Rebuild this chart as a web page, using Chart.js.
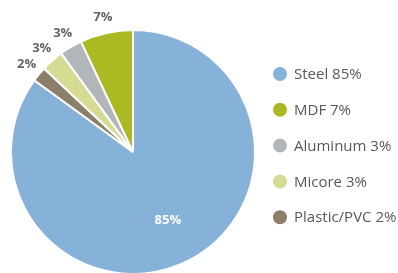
<!DOCTYPE html>
<html>
<head>
<meta charset="utf-8">
<script src="https://cdn.jsdelivr.net/npm/chart.js@4.4.0/dist/chart.umd.min.js"></script>
<style>
  html, body { margin: 0; padding: 0; background: #fff; }
  #wrap { width: 398px; height: 273px; position: relative; }
</style>
</head>
<body>
<div id="wrap"><canvas id="pie"></canvas></div>
<script>
// slices, clockwise from 12 o'clock
const materials = ['Steel', 'Plastic/PVC', 'Micore', 'Aluminum', 'MDF'];
const shares = [85, 2, 3, 3, 7];
const colors = ['#86b1d9', '#8c7f6a', '#d5db93', '#b1b6ba', '#abba22'];
// legend order as in the picture
const legendOrder = ['Steel', 'MDF', 'Aluminum', 'Micore', 'Plastic/PVC'];

const sliceLabels = {
  id: 'sliceLabels',
  afterDatasetsDraw(chart) {
    const ctx = chart.ctx;
    const arcs = chart.getDatasetMeta(0).data;
    ctx.save();
    ctx.textAlign = 'center';
    ctx.textBaseline = 'middle';
    arcs.forEach((arc, i) => {
      const mid = (arc.startAngle + arc.endAngle) / 2;
      const big = shares[i] > 50;
      const r = big ? arc.outerRadius * 0.63 : arc.outerRadius + 16;
      ctx.font = 'bold 13px "Open Sans", sans-serif';
      ctx.fillStyle = big ? '#ffffff' : '#636466';
      ctx.fillText(shares[i] + '%', arc.x + Math.cos(mid) * r, arc.y + Math.sin(mid) * r);
    });
    ctx.restore();
  }
};

const sideLegend = {
  id: 'sideLegend',
  afterDraw(chart) {
    const ctx = chart.ctx;
    ctx.save();
    ctx.textAlign = 'left';
    ctx.textBaseline = 'middle';
    ctx.font = '15px "Open Sans", sans-serif';
    legendOrder.forEach((name, k) => {
      const i = materials.indexOf(name);
      const y = 74 + k * 35.8;
      ctx.fillStyle = colors[i];
      ctx.beginPath();
      ctx.arc(280, y, 7, 0, Math.PI * 2);
      ctx.fill();
      ctx.fillStyle = '#58595b';
      ctx.fillText(name + ' ' + shares[i] + '%', 294, y + 1);
    });
    ctx.restore();
  }
};

new Chart(document.getElementById('pie'), {
  type: 'pie',
  data: {
    labels: materials,
    datasets: [{
      data: shares,
      backgroundColor: colors,
      borderColor: '#ffffff',
      borderWidth: 2
    }]
  },
  options: {
    responsive: true,
    maintainAspectRatio: false,
    animation: false,
    radius: 122,
    layout: { padding: { left: 12, right: 144, top: 31, bottom: 0 } },
    plugins: {
      legend: { display: false },
      tooltip: { enabled: false }
    }
  },
  plugins: [sliceLabels, sideLegend]
});
</script>
</body>
</html>
